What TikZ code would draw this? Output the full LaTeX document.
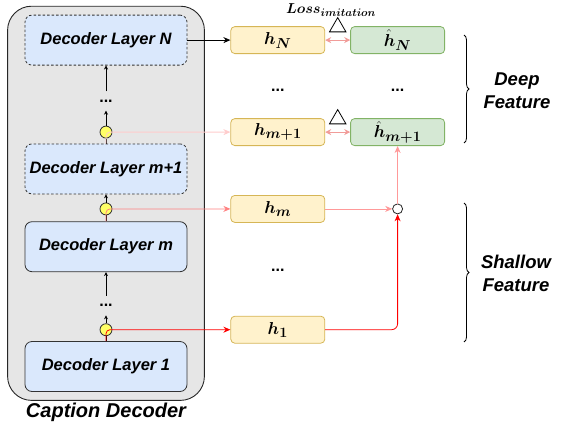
\documentclass[tikz,border=0pt]{standalone}
\usepackage{amsmath, bm}
\usepackage{fontspec}
\setmainfont{Liberation Sans}
\usepackage{tikz}
\usetikzlibrary{arrows.meta,positioning,calc,fit,backgrounds,shapes.geometric,decorations.pathreplacing}

\definecolor{decgray}{HTML}{E6E6E6}
\definecolor{layerfill}{HTML}{DAE8FC}
\definecolor{tapfill}{HTML}{FFFF66}
\definecolor{featfill}{HTML}{FFF2CC}
\definecolor{featdraw}{HTML}{D6B656}
\definecolor{tchfill}{HTML}{D5E8D4}
\definecolor{tchdraw}{HTML}{82B366}
\definecolor{palered}{HTML}{FFCCCC}
\definecolor{midred}{HTML}{FF8080}
\definecolor{softred}{HTML}{FF9999}
\definecolor{lossred}{HTML}{F19C99}

\begin{document}
\begin{tikzpicture}[
  x=1pt, y=-1pt,
  layer/.style={draw=black!80, line width=0.8pt, rounded corners=7pt, minimum width=162pt, minimum height=50pt, fill=layerfill, font=\fontsize{16.5}{19}\selectfont\bfseries\itshape},
  frozen/.style={layer, dash pattern=on 2.5pt off 2pt},
  tap/.style={circle, draw=black!80, line width=0.8pt, fill=tapfill, minimum size=12pt, inner sep=0pt},
  feat/.style={draw=featdraw, fill=featfill, line width=0.8pt, rounded corners=4pt, minimum width=94pt, minimum height=27pt, inner sep=0pt, font=\fontsize{19}{20}\selectfont},
  tch/.style={feat, draw=tchdraw, fill=tchfill},
  dotsnode/.style={minimum height=19pt, inner sep=0pt, font=\fontsize{16}{16}\selectfont\bfseries},
  side/.style={align=center, font=\fontsize{18.5}{23}\selectfont\bfseries\itshape},
  lossmark/.style={regular polygon, regular polygon sides=3, draw, line width=0.8pt, minimum size=19pt, inner sep=0pt},
  arr/.style={-{Stealth[length=7pt,width=6pt]}, line width=0.8pt},
  up/.style={-{Stealth[length=4pt,width=4pt]}, line width=0.8pt},
  lossarr/.style={{Stealth[length=6pt,width=6pt]}-{Stealth[length=6pt,width=6pt]}, line width=1pt, lossred},
  brc/.style={decorate, decoration={brace, amplitude=5pt}, line width=0.8pt}
]
  \useasboundingbox (0,0) rectangle (564,431);

  % Decoder stack
  \node[layer] (l1) at (106,366.5) {Decoder Layer 1};
  \node[layer, above=69pt of l1] (lm) {Decoder Layer m};
  \node[frozen, above=27pt of lm] (lmp) {Decoder Layer m+1};
  \node[frozen, above=78pt of lmp] (lN) {Decoder Layer N};

  \node[tap, above=5pt of l1] (c3) {};
  \node[tap, above=6pt of lm] (c2) {};
  \node[tap, above=5pt of lmp] (c1) {};
  \node[dotsnode, above=8pt of c3] (d2) {...};
  \node[dotsnode, above=15pt of c1] (d1) {...};

  \begin{scope}[on background layer]
    \node[draw=black!85, line width=0.9pt, rounded corners=24pt, fill=decgray,
          fit=(lN)(l1), inner xsep=17pt, inner ysep=8.5pt] (dec) {};
  \end{scope}
  \node[below=-1pt of dec, font=\fontsize{20}{22}\selectfont\bfseries\itshape] (declbl) {Caption Decoder};

  \draw[line width=0.8pt] (l1.north) -- (c3.south);
  \draw[up] (c3.north) -- (d2.south);
  \draw[up] (d2.north) -- (lm.south);
  \draw[line width=0.8pt] (lm.north) -- (c2.south);
  \draw[up] (c2.north) -- (lmp.south);
  \draw[line width=0.8pt] (lmp.north) -- (c1.south);
  \draw[up] (c1.north) -- (d1.south);
  \draw[up] (d1.north) -- (lN.south);

  % Student / teacher features
  \node[feat, right=43pt of lN] (hN) {$\bm{h_N}$};
  \node[tch, right=25pt of hN] (thN) {$\bm{\hat{h}_N}$};
  \node[feat] (hm1) at (hN |- c1) {$\bm{h_{m+1}}$};
  \node[tch, right=25pt of hm1] (thm1) {$\bm{\hat{h}_{m+1}}$};
  \node[feat] (hm) at (hN |- c2) {$\bm{h_m}$};
  \node[feat] (h1) at (hN |- c3) {$\bm{h_1}$};
  \node[dotsnode] (fd1) at (hN |- 0,90) {...};
  \node[dotsnode] (fd2) at (thN |- 0,90) {...};
  \node[dotsnode] (fd3) at (hN |- 0,270) {...};

  \node[circle, draw=black!85, fill=white, line width=0.8pt, minimum size=10pt, inner sep=0pt] (jn) at (thm1 |- hm) {};

  % Imitation loss
  \node[lossmark] (tri1) at ($(hN.east)!0.5!(thN.west)+(0,-13)$) {};
  \node[lossmark] (tri2) at ($(hm1.east)!0.5!(thm1.west)+(0,-13)$) {};
  \node[font=\fontsize{15}{16}\selectfont] (loss) at (331,10) {$\bm{Loss_{imitation}}$};

  % Connectors
  \draw[arr] (lN.east) -- (hN.west);
  \draw[arr, palered, rounded corners=4pt] (lmp.north) |- (hm1.west);
  \draw[arr, midred, rounded corners=4pt] (lm.north) |- (hm.west);
  \draw[arr, red, rounded corners=4pt] (l1.north) |- (h1.west);
  \draw[lossarr] (hN.east) -- (thN.west);
  \draw[lossarr] (hm1.east) -- (thm1.west);
  \draw[arr, softred] (hm.east) -- (jn.west);
  \draw[arr, red, rounded corners=6pt] (h1.east) -| (jn.south);
  \draw[arr, softred] (jn.north) -- (thm1.south);

  % Braces
  \coordinate (db1) at (464,35);
  \coordinate (db2) at (464,143);
  \coordinate (sb1) at (464,203);
  \coordinate (sb2) at (464,342);
  \draw[brc] (db1) -- (db2);
  \draw[brc] (sb1) -- (sb2);
  \node[side] (deep) at (517,91) {Deep\\Feature};
  \node[side] (shallow) at (516,273) {Shallow\\Feature};
\end{tikzpicture}
\end{document}
